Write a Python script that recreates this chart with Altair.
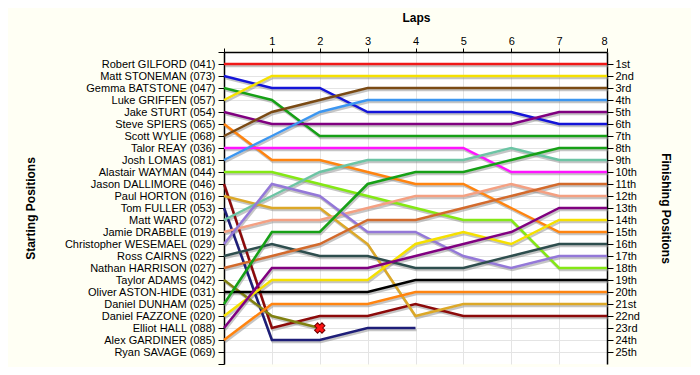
import altair as alt
import pandas as pd

laps = list(range(9))

drivers = [
    "Robert GILFORD (041)", "Matt STONEMAN (073)", "Gemma BATSTONE (047)",
    "Luke GRIFFEN (057)", "Jake STURT (054)", "Steve SPIERS (065)",
    "Scott WYLIE (068)", "Talor REAY (036)", "Josh LOMAS (081)",
    "Alastair WAYMAN (044)", "Jason DALLIMORE (046)", "Paul HORTON (016)",
    "Tom FULLER (053)", "Matt WARD (072)", "Jamie DRABBLE (019)",
    "Christopher WESEMAEL (029)", "Ross CAIRNS (022)", "Nathan HARRISON (027)",
    "Taylor ADAMS (042)", "Oliver ASTON-HIDE (031)", "Daniel DUNHAM (025)",
    "Daniel FAZZONE (020)", "Elliot HALL (088)", "Alex GARDINER (085)",
    "Ryan SAVAGE (069)",
]

colors = [
    "#F01818", "#1414D8", "#16A016", "#F5E000", "#800080", "#FF8410",
    "#7A4A14", "#FF14FF", "#3C96F0", "#84E814", "#8C0A0A", "#DCA828",
    "#1E1E78", "#6CC4A4", "#F4A082", "#9478D8", "#2E4E4E", "#D26A2C",
    "#808010", "#000000", "#16A016", "#F5E000", "#800080", "#FF8410",
    "#AAAAAA",
]

N = None
positions = [
    [1, 1, 1, 1, 1, 1, 1, 1, 1],
    [2, 3, 3, 5, 5, 5, 5, 6, 6],
    [3, 4, 7, 7, 7, 7, 7, 7, 7],
    [4, 2, 2, 2, 2, 2, 2, 2, 2],
    [5, 6, 6, 6, 6, 6, 6, 5, 5],
    [6, 9, 9, 10, 11, 11, 13, 15, 15],
    [7, 5, 4, 3, 3, 3, 3, 3, 3],
    [8, 8, 8, 8, 8, 8, 10, 10, 10],
    [9, 7, 5, 4, 4, 4, 4, 4, 4],
    [10, 10, 11, 12, 13, 14, 14, 18, 18],
    [11, 23, 22, 22, 21, 22, 22, 22, 22],
    [12, 13, 13, 16, 22, 21, 21, 21, 21],
    [13, 24, 24, 23, 23, N, N, N, N],
    [14, 12, 10, 9, 9, 9, 8, 9, 9],
    [15, 14, 14, 13, 12, 12, 11, 12, 12],
    [16, 11, 12, 15, 15, 17, 18, 17, 17],
    [17, 16, 17, 17, 18, 18, 17, 16, 16],
    [18, 17, 16, 14, 14, 13, 12, 11, 11],
    [19, 22, 23, N, N, N, N, N, N],
    [20, 20, 20, 20, 19, 19, 19, 19, 19],
    [21, 15, 15, 11, 10, 10, 9, 8, 8],
    [22, 19, 19, 19, 16, 15, 16, 14, 14],
    [23, 18, 18, 18, 17, 16, 15, 13, 13],
    [24, 21, 21, 21, 20, 20, 20, 20, 20],
    [N, N, N, N, N, N, N, N, N],
]

finishing = ["1st", "2nd", "3rd"] + [f"{i}th" for i in range(4, 21)] + \
    ["21st", "22nd", "23rd", "24th", "25th"]

retired_driver = "Taylor ADAMS (042)"

rows = []
for d, pos in zip(drivers, positions):
    for lap, p in zip(laps, pos):
        if p is not None:
            rows.append({"driver": d, "lap": lap, "pos": p})
df = pd.DataFrame(rows)
ret = df[df.driver == retired_driver].sort_values("lap").tail(1)

FONT = "Liberation Sans"
left_expr = "[''," + ",".join("'" + d + "'" for d in drivers) + ",''][datum.value]"
right_expr = "[''," + ",".join("'" + f + "'" for f in finishing) + ",''][datum.value]"

yscale = alt.Scale(domain=[0, 26], reverse=True, nice=False, zero=False)
xscale = alt.Scale(domain=[0, 8], nice=False, zero=False)

xaxis = alt.Axis(
    orient="top", values=laps, labelExpr="datum.value == 0 ? '' : datum.value",
    title="Laps", grid=True, gridColor="#E4E4E4", tickSize=4, labelPadding=2,
    titleX=192, titleY=-35, titleBaseline="middle", titleAlign="center",
)

left_axis = alt.Axis(
    orient="left", values=list(range(0, 27)), labelExpr=left_expr,
    title="Starting Positions", grid=False, tickSize=6, labelPadding=3,
    titleAngle=270, titleX=-194, titleY=156, titleBaseline="middle",
    titleAlign="center",
)
right_axis = alt.Axis(
    orient="right", values=list(range(1, 26)), labelExpr=right_expr,
    title="Finishing Positions", grid=True, gridColor="#E4E4E4", tickSize=6,
    labelPadding=2, titleAngle=90, titleX=58, titleY=156,
    titleBaseline="middle", titleAlign="center",
)

shadow = alt.Chart(df).mark_line(
    strokeWidth=2.5, color="#8c8c8c", opacity=0.5, xOffset=1, yOffset=2
).encode(
    x=alt.X("lap:Q", scale=xscale, axis=xaxis),
    y=alt.Y("pos:Q", scale=yscale, axis=left_axis),
    detail="driver:N",
    order="lap:Q",
)

lines = alt.Chart(df).mark_line(strokeWidth=2.5).encode(
    x=alt.X("lap:Q", scale=xscale, axis=xaxis),
    y=alt.Y("pos:Q", scale=yscale, axis=right_axis),
    color=alt.Color("driver:N", scale=alt.Scale(domain=drivers, range=colors),
                    legend=None),
    order="lap:Q",
)

marker = alt.Chart(ret).mark_point(
    shape="cross", angle=45, filled=True, fill="#FF1414", stroke="#700000",
    strokeWidth=1, size=110, opacity=1,
).encode(
    x=alt.X("lap:Q", scale=xscale, axis=xaxis),
    y=alt.Y("pos:Q", scale=yscale, axis=None),
)

chart = alt.layer(shadow, lines, marker).resolve_axis(y="independent").properties(
    width=383, height=312,
    autosize=alt.AutoSizeParams(type="none"),
    padding={"left": 216, "top": 44, "right": 84, "bottom": 3},
    background="#FFFFF4",
).configure_view(
    stroke=None, fill="white",
).configure_axis(
    labelFont=FONT, labelFontSize=11, labelColor="#000000",
    titleFont=FONT, titleFontSize=12, titleFontWeight="bold", titleColor="#000000",
    domainColor="#000000", tickColor="#000000", domainWidth=1.5, tickWidth=1,
)

chart.save("out.html", embed_options={"renderer": "svg", "actions": False})
